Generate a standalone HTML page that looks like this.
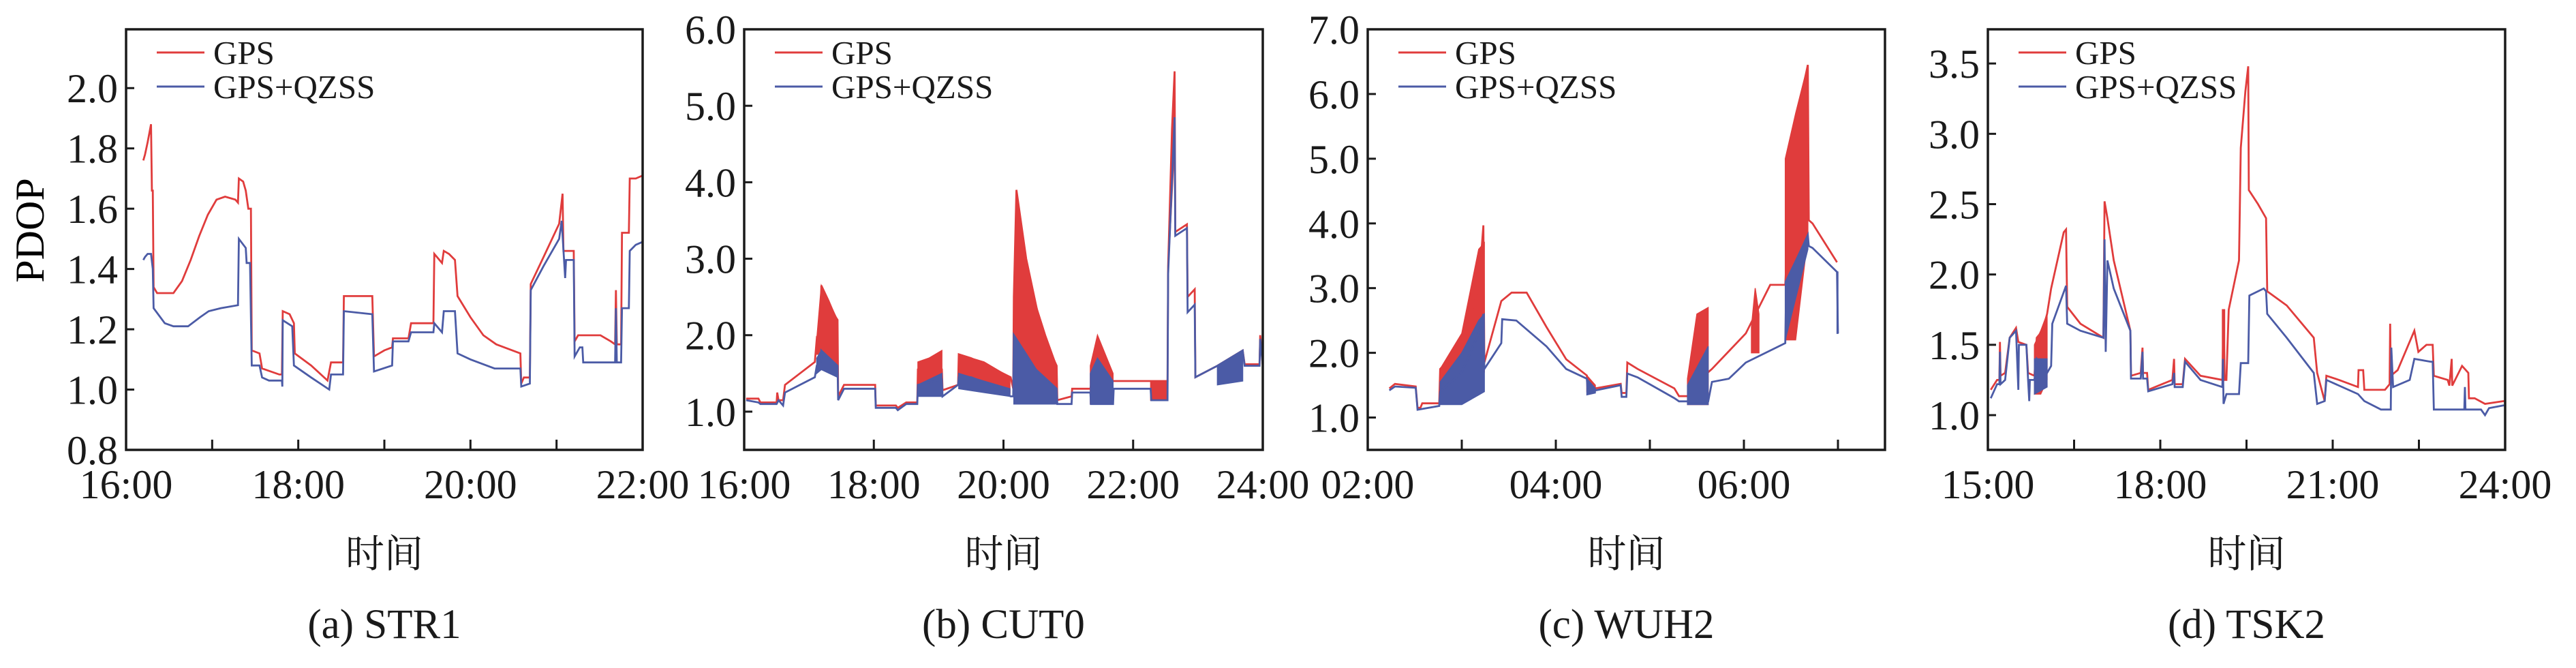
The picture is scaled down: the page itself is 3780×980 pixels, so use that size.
<!DOCTYPE html>
<html><head><meta charset="utf-8">
<style>
html,body{margin:0;padding:0;background:#fff;}
svg{display:block;font-family:"Liberation Serif","Noto Serif CJK SC",serif;}
</style></head>
<body>
<svg id="fig" width="3780" height="980" viewBox="0 0 3780 980" xmlns="http://www.w3.org/2000/svg">
<text x="0" y="0" transform="translate(64,338) rotate(-90)" text-anchor="middle" font-size="60">PDOP</text>
</svg>
<script>
// ---------- Panel (a) STR1 ----------
const gpsA = [[16.20,1.76],[16.22,1.78],[16.25,1.82],[16.27,1.85],[16.29,1.88],[16.30,1.66],[16.31,1.66],[16.32,1.34],[16.36,1.32],[16.55,1.32],[16.65,1.36],[16.75,1.43],[16.85,1.51],[16.95,1.58],[17.05,1.63],[17.15,1.64],[17.27,1.63],[17.30,1.62],[17.31,1.70],[17.36,1.69],[17.39,1.66],[17.42,1.60],[17.45,1.60],[17.46,1.13],[17.55,1.12],[17.58,1.07],[17.78,1.05],[17.81,1.05],[17.82,1.26],[17.90,1.25],[17.95,1.22],[17.96,1.12],[18.15,1.08],[18.34,1.03],[18.38,1.09],[18.52,1.09],[18.53,1.31],[18.86,1.31],[18.88,1.11],[19.00,1.13],[19.09,1.14],[19.10,1.17],[19.28,1.17],[19.31,1.22],[19.57,1.22],[19.58,1.45],[19.67,1.42],[19.69,1.46],[19.75,1.45],[19.82,1.43],[19.85,1.31],[20.00,1.24],[20.15,1.18],[20.30,1.15],[20.58,1.12],[20.59,1.02],[20.62,1.04],[20.69,1.04],[20.70,1.35],[20.85,1.44],[21.03,1.55],[21.07,1.65],[21.08,1.46],[21.20,1.46],[21.21,1.16],[21.25,1.18],[21.51,1.18],[21.63,1.16],[21.68,1.15],[21.69,1.33],[21.70,1.15],[21.75,1.15],[21.76,1.52],[21.84,1.52],[21.85,1.70],[21.92,1.70],[22.0,1.71]];
const qzssA = [[16.20,1.43],[16.22,1.44],[16.25,1.45],[16.29,1.45],[16.31,1.40],[16.32,1.27],[16.45,1.22],[16.55,1.21],[16.72,1.21],[16.86,1.24],[16.96,1.26],[17.10,1.27],[17.30,1.28],[17.31,1.50],[17.39,1.47],[17.40,1.42],[17.44,1.42],[17.46,1.08],[17.55,1.08],[17.58,1.04],[17.66,1.03],[17.81,1.03],[17.815,1.01],[17.82,1.23],[17.93,1.21],[17.95,1.08],[18.15,1.04],[18.36,1.00],[18.38,1.05],[18.52,1.05],[18.53,1.26],[18.86,1.25],[18.88,1.06],[19.09,1.08],[19.10,1.16],[19.28,1.16],[19.31,1.19],[19.57,1.19],[19.58,1.22],[19.67,1.19],[19.69,1.26],[19.82,1.26],[19.85,1.12],[20.00,1.10],[20.28,1.07],[20.58,1.07],[20.59,1.01],[20.69,1.02],[20.70,1.33],[20.85,1.41],[21.03,1.50],[21.06,1.56],[21.10,1.37],[21.11,1.43],[21.20,1.43],[21.21,1.11],[21.27,1.14],[21.30,1.14],[21.31,1.09],[21.68,1.09],[21.69,1.27],[21.70,1.09],[21.75,1.09],[21.76,1.27],[21.84,1.27],[21.85,1.46],[21.92,1.48],[22.0,1.49]];
const gpsBandsA = [];
const qzssBandsA = [];
const yTicksA = [0.8,1.0,1.2,1.4,1.6,1.8,2.0];
const xLabelsA = [16,18,20,22];
const xMarksA = [17,18,19,20,21];

// ---------- Panel (b) CUT0 ----------
const gpsB = [[16.03,1.17],[16.22,1.17],[16.25,1.12],[16.50,1.12],[16.51,1.25],[16.53,1.15],[16.60,1.15],[16.63,1.35],[16.86,1.50],[17.09,1.65],[17.12,1.95],[17.18,1.85],[17.19,2.65],[17.30,2.45],[17.40,2.25],[17.44,2.2],[17.45,1.2],[17.54,1.35],[18.02,1.35],[18.03,1.08],[18.34,1.08],[18.37,1.05],[18.50,1.12],[18.67,1.12],[18.68,1.55],[19.05,1.55],[19.06,1.28],[19.30,1.35],[19.31,1.75],[19.50,1.70],[19.80,1.58],[20.11,1.45],[20.15,1.3],[20.16,2.5],[20.20,3.9],[20.35,3.0],[20.5,2.4],[20.6,2.0],[20.82,1.6],[20.83,1.15],[21.05,1.2],[21.06,1.3],[21.34,1.3],[21.40,1.6],[21.60,1.5],[21.69,1.4],[22.27,1.4],[22.53,1.4],[22.54,2.9],[22.60,4.7],[22.64,5.45],[22.65,3.35],[22.83,3.45],[22.84,2.5],[22.95,2.6],[22.96,1.45],[23.30,1.6],[23.69,1.8],[23.72,1.62],[23.95,1.62],[23.96,2.0],[24.0,1.6]];
const qzssB = [[16.03,1.15],[16.22,1.12],[16.25,1.10],[16.50,1.10],[16.53,1.15],[16.60,1.08],[16.63,1.25],[16.86,1.35],[17.09,1.45],[17.12,1.60],[17.18,1.60],[17.19,1.80],[17.44,1.60],[17.45,1.15],[17.54,1.30],[18.02,1.30],[18.03,1.05],[18.34,1.05],[18.37,1.02],[18.50,1.10],[18.67,1.10],[18.68,1.35],[19.05,1.42],[19.06,1.2],[19.30,1.35],[19.31,1.45],[19.50,1.45],[19.80,1.35],[20.11,1.2],[20.15,1.2],[20.16,2.0],[20.35,1.75],[20.5,1.55],[20.82,1.3],[20.83,1.1],[21.05,1.1],[21.06,1.25],[21.34,1.25],[21.35,1.1],[21.69,1.1],[21.70,1.3],[22.27,1.3],[22.28,1.15],[22.53,1.15],[22.54,2.8],[22.64,4.85],[22.65,3.3],[22.83,3.4],[22.84,2.3],[22.95,2.4],[22.96,1.45],[23.30,1.6],[23.69,1.8],[23.72,1.6],[23.95,1.6],[23.96,1.95],[24.0,1.6]];
const gpsBandsB = [
 [[17.12,1.75,1.95],[17.19,1.75,2.65],[17.30,1.7,2.45],[17.44,1.6,2.2]],
 [[18.68,1.3,1.65],[18.85,1.3,1.7],[19.05,1.3,1.8]],
 [[19.31,1.45,1.75],[19.70,1.35,1.65],[20.10,1.25,1.45]],
 [[20.16,1.7,2.5],[20.20,1.6,3.9],[20.35,1.3,3.0],[20.50,1.15,2.4],[20.65,1.1,2.0],[20.82,1.1,1.6]],
 [[21.34,1.1,1.6],[21.45,1.1,2.0],[21.69,1.1,1.5]],
 [[22.27,1.15,1.4],[22.53,1.15,1.4]],
 [[22.54,2.8,2.9],[22.64,4.5,5.45]]
];
const qzssBandsB = [
 [[17.12,1.5,1.7],[17.19,1.55,1.8],[17.44,1.45,1.6]],
 [[18.68,1.2,1.35],[19.05,1.2,1.5]],
 [[19.31,1.3,1.5],[19.70,1.25,1.4],[20.10,1.2,1.3]],
 [[20.16,1.1,2.0],[20.35,1.1,1.75],[20.50,1.1,1.55],[20.82,1.1,1.3]],
 [[21.34,1.1,1.5],[21.45,1.1,1.7],[21.69,1.1,1.4]],
 [[23.30,1.35,1.6],[23.69,1.4,1.8]]
];
const yTicksB = [1,2,3,4,5,6];
const xLabelsB = [16,18,20,22,24];
const xMarksB = [18,20,22];

// ---------- Panel (c) WUH2 ----------
const gpsC = [[2.23,1.45],[2.29,1.52],[2.51,1.48],[2.53,1.15],[2.56,1.15],[2.58,1.22],[2.76,1.22],[2.77,1.75],[3.00,2.1],[3.18,3.0],[3.23,3.97],[3.24,1.85],[3.42,2.8],[3.53,2.93],[3.69,2.93],[3.90,2.4],[4.11,1.9],[4.33,1.65],[4.34,1.5],[4.42,1.45],[4.69,1.52],[4.70,1.38],[4.75,1.38],[4.76,1.85],[4.87,1.75],[5.26,1.45],[5.31,1.33],[5.40,1.33],[5.62,1.7],[5.66,1.75],[6.02,2.3],[6.28,3.05],[6.44,3.05],[6.50,5.0],[6.60,5.9],[6.68,6.45],[6.69,4.05],[6.73,4.0],[6.99,3.4]];
const qzssC = [[2.23,1.42],[2.29,1.48],[2.51,1.46],[2.53,1.12],[2.76,1.18],[2.77,1.4],[3.00,1.7],[3.18,2.3],[3.23,2.6],[3.24,1.75],[3.42,2.15],[3.43,2.52],[3.58,2.5],[3.90,2.1],[4.11,1.75],[4.33,1.6],[4.34,1.4],[4.42,1.42],[4.69,1.5],[4.70,1.32],[4.75,1.32],[4.76,1.68],[4.87,1.62],[5.26,1.3],[5.31,1.25],[5.62,1.25],[5.66,1.55],[5.84,1.6],[6.02,1.85],[6.44,2.15],[6.45,3.1],[6.68,3.82],[6.69,3.65],[6.73,3.62],[6.99,3.25],[7.00,2.3]];
const gpsBandsC = [
 [[2.77,1.2,1.75],[3.00,1.3,2.3],[3.18,1.6,3.6],[3.24,1.7,3.7]],
 [[4.33,1.4,1.65],[4.42,1.4,1.5]],
 [[5.40,1.2,1.6],[5.50,1.2,2.6],[5.62,1.2,2.7]],
 [[6.08,2.0,2.4],[6.12,2.0,3.0],[6.16,2.0,2.6]],
 [[6.44,2.2,5.0],[6.55,2.2,5.7],[6.68,3.8,6.45]]
];
const qzssBandsC = [
 [[2.77,1.2,1.55],[3.00,1.2,2.0],[3.18,1.35,2.5],[3.24,1.4,2.6]],
 [[4.33,1.35,1.6],[4.42,1.38,1.45]],
 [[5.40,1.2,1.5],[5.62,1.2,2.1]],
 [[6.44,2.2,3.1],[6.68,3.6,3.82]],
 [[6.99,2.3,3.25],[7.00,2.3,3.25]]
];
const yTicksC = [1,2,3,4,5,6,7];
const xLabelsC = [2,4,6];
const xMarksC = [3,4,5,6,7];

// ---------- Panel (d) TSK2 ----------
const gpsD = [[15.05,1.18],[15.16,1.25],[15.20,1.25],[15.21,1.52],[15.22,1.28],[15.30,1.30],[15.38,1.55],[15.49,1.62],[15.53,1.52],[15.67,1.50],[15.70,1.30],[15.81,1.28],[15.85,1.55],[15.95,1.60],[16.03,1.72],[16.10,1.90],[16.32,2.30],[16.36,2.32],[16.38,1.77],[16.61,1.65],[17.01,1.55],[17.03,2.52],[17.08,2.40],[17.19,2.10],[17.48,1.60],[17.49,1.28],[17.66,1.30],[17.69,1.48],[17.70,1.30],[17.77,1.30],[17.79,1.18],[18.21,1.25],[18.24,1.40],[18.25,1.22],[18.39,1.22],[18.43,1.40],[18.70,1.28],[19.08,1.25],[19.10,1.75],[19.12,1.25],[19.15,1.25],[19.19,1.75],[19.37,2.10],[19.40,2.90],[19.48,3.30],[19.53,3.48],[19.54,2.60],[19.70,2.50],[19.84,2.40],[19.86,1.88],[20.20,1.78],[20.67,1.55],[20.73,1.30],[20.86,1.10],[20.89,1.28],[21.11,1.25],[21.44,1.20],[21.45,1.32],[21.53,1.32],[21.55,1.18],[21.91,1.18],[21.99,1.22],[22.00,1.65],[22.01,1.28],[22.13,1.32],[22.42,1.60],[22.49,1.45],[22.63,1.50],[22.74,1.50],[22.76,1.28],[23.00,1.25],[23.03,1.21],[23.07,1.40],[23.08,1.21],[23.25,1.35],[23.36,1.30],[23.37,1.12],[23.47,1.12],[23.65,1.08],[23.98,1.10]];
const qzssD = [[15.05,1.12],[15.16,1.22],[15.20,1.22],[15.21,1.45],[15.22,1.22],[15.30,1.25],[15.38,1.55],[15.49,1.60],[15.53,1.18],[15.54,1.50],[15.67,1.50],[15.70,1.25],[15.72,1.10],[15.73,1.25],[15.81,1.25],[15.85,1.40],[16.03,1.30],[16.10,1.35],[16.12,1.65],[16.36,1.92],[16.38,1.65],[16.61,1.60],[17.01,1.55],[17.03,2.25],[17.05,1.45],[17.08,2.10],[17.19,1.90],[17.48,1.60],[17.49,1.26],[17.66,1.26],[17.69,1.45],[17.70,1.26],[17.77,1.26],[17.79,1.17],[18.21,1.22],[18.24,1.30],[18.25,1.20],[18.39,1.20],[18.43,1.38],[18.70,1.25],[19.08,1.20],[19.09,1.40],[19.10,1.08],[19.15,1.15],[19.37,1.15],[19.40,1.37],[19.53,1.37],[19.55,1.85],[19.80,1.90],[19.84,1.88],[19.86,1.72],[20.20,1.55],[20.67,1.30],[20.73,1.08],[20.86,1.10],[20.89,1.25],[21.44,1.15],[21.55,1.10],[21.84,1.04],[22.01,1.04],[22.02,1.48],[22.05,1.20],[22.34,1.25],[22.42,1.40],[22.70,1.38],[22.74,1.38],[22.76,1.04],[23.29,1.04],[23.30,1.20],[23.31,1.04],[23.58,1.04],[23.65,1.00],[23.72,1.05],[23.98,1.07]];
const gpsBandsD = [
 [[15.81,1.15,1.50],[15.92,1.15,1.60],[16.03,1.25,1.72]],
 [[19.08,1.25,1.75],[19.12,1.25,1.75]]
];
const qzssBandsD = [
 [[15.81,1.15,1.40],[16.03,1.20,1.40]]
];
const yTicksD = [1.0,1.5,2.0,2.5,3.0,3.5];
const xLabelsD = [15,18,21,24];
const xMarksD = [16.5,18,19.5,21,22.5];

const RED = "#e03c3c", BLUE = "#4b5ba6";
const NS = "http://www.w3.org/2000/svg";
const svg = document.getElementById('fig');

function mk(tag, attrs, parent){
  const e = document.createElementNS(NS, tag);
  for (const k in attrs) e.setAttribute(k, attrs[k]);
  (parent||svg).appendChild(e);
  return e;
}
function hh(h){ let v=Math.round(h)%100; return (v<10?'0':'')+v+':00'; }

function panel(id, caption, box, xr, yr, gps, qz, gpsBands, qzBands, yT, xL, xM, dec){
  const g = mk('g', {});
  
  
  const X = t => box.l + (t - xr[0]) / (xr[1] - xr[0]) * (box.r - box.l);
  const Y = v => box.b - (v - yr[0]) / (yr[1] - yr[0]) * (box.b - box.t);
  const clipId = 'clip-' + id;
  const cp = mk('clipPath', {id: clipId}, g);
  mk('rect', {x: box.l, y: box.t, width: box.r - box.l, height: box.b - box.t}, cp);
  const plot = mk('g', {'clip-path': 'url(#' + clipId + ')'}, g);

  function bands(arr, color, nm){
    arr.forEach(b => {
      const pts = b.map(p => X(p[0]) + ',' + Y(p[2])).concat(b.slice().reverse().map(p => X(p[0]) + ',' + Y(p[1])));
      const pg = mk('polygon', {points: pts.join(' '), fill: color, stroke: color, 'stroke-width': 1.5}, plot);
      
      
    });
  }
  function line(arr, color, nm){
    const pl = mk('polyline', {points: arr.map(p => X(p[0]).toFixed(1) + ',' + Y(p[1]).toFixed(1)).join(' '), fill: 'none', stroke: color, 'stroke-width': 2.8, 'stroke-linejoin': 'miter'}, plot);
    
    
  }
  bands(gpsBands, RED, 'gps-spike-band');
  line(gps, RED, 'gps-line');
  bands(qzBands, BLUE, 'gps-qzss-spike-band');
  line(qz, BLUE, 'gps-qzss-line');

  const frame = mk('rect', {x: box.l, y: box.t, width: box.r - box.l, height: box.b - box.t, fill: 'none', stroke: '#1a1a1a', 'stroke-width': 3.5}, g);
  
  

  yT.forEach(v => {
    mk('line', {x1: box.l, x2: box.l + 12, y1: Y(v), y2: Y(v), stroke: '#1a1a1a', 'stroke-width': 3}, g);
    const t = mk('text', {x: box.l - 12, y: Y(v) + 21, 'text-anchor': 'end', 'font-size': 60, fill: '#1a1a1a'}, g);
    t.textContent = v.toFixed(dec);
    
    
  });
  xM.forEach(h => {
    mk('line', {x1: X(h), x2: X(h), y1: box.b, y2: box.b - 15, stroke: '#1a1a1a', 'stroke-width': 3}, g);
  });
  xL.forEach(h => {
    const t = mk('text', {x: X(h), y: 731, 'text-anchor': 'middle', 'font-size': 60, fill: '#1a1a1a'}, g);
    t.textContent = hh(h);
    
    
  });
  const cx = (box.l + box.r) / 2;
  const xt = mk('text', {x: cx, y: 832, 'text-anchor': 'middle', 'font-size': 57, fill: '#1a1a1a', 'font-family': '"Noto Serif CJK SC","Noto Sans CJK SC",serif'}, g);
  xt.textContent = '时间';
  
  
  const cap = mk('text', {x: cx, y: 936, 'text-anchor': 'middle', 'font-size': 61, fill: '#1a1a1a'}, g);
  cap.textContent = caption;
  
  

  [['GPS', RED, 77], ['GPS+QZSS', BLUE, 127]].forEach(([lab, col, y]) => {
    const lg = mk('g', {}, g);
    
    
    mk('line', {x1: box.l + 45, x2: box.l + 115, y1: y, y2: y, stroke: col, 'stroke-width': 3}, lg);
    const t = mk('text', {x: box.l + 128, y: y + 17, 'font-size': 49, fill: '#1a1a1a'}, lg);
    t.textContent = lab;
  });
}

panel('a', '(a) STR1', {l:185, r:943, t:43, b:660}, [16,22], [0.8,2.195], gpsA, qzssA, gpsBandsA, qzssBandsA, yTicksA, xLabelsA, xMarksA, 1);
panel('b', '(b) CUT0', {l:1092, r:1853, t:43, b:660}, [16,24], [0.5,6.0], gpsB, qzssB, gpsBandsB, qzssBandsB, yTicksB, xLabelsB, xMarksB, 1);
panel('c', '(c) WUH2', {l:2007, r:2766, t:43, b:660}, [2,7.5], [0.5,7.0], gpsC, qzssC, gpsBandsC, qzssBandsC, yTicksC, xLabelsC, xMarksC, 1);
panel('d', '(d) TSK2', {l:2917, r:3676, t:43, b:660}, [15,24], [0.753,3.743], gpsD, qzssD, gpsBandsD, qzssBandsD, yTicksD, xLabelsD, xMarksD, 1);
</script>
</body></html>
